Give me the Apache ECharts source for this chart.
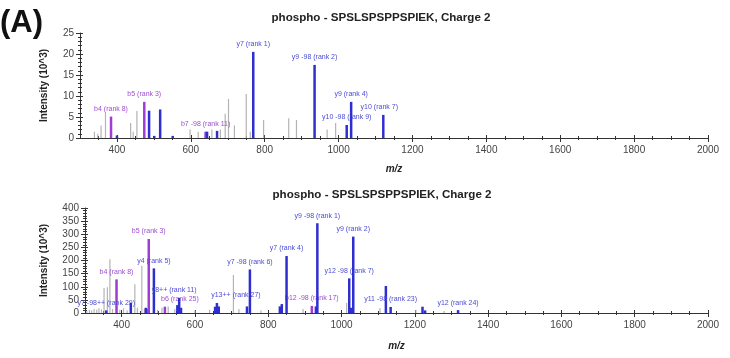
<!DOCTYPE html>
<html><head><meta charset="utf-8">
<script src="https://cdn.jsdelivr.net/npm/echarts@6/dist/echarts.min.js"></script>
<style>html,body{margin:0;padding:0;background:#fff}#c{width:730px;height:358px}</style>
</head><body><div id="c"></div>
<script>
// ---------- data ----------
const panelTitle = 'phospho - SPSLSPSPPSPIEK, Charge 2';
const panelLetter = '(A)';
const xName = 'm/z';
const yName = 'Intensity (10^3)';
const xMajorTicks = [400, 600, 800, 1000, 1200, 1400, 1600, 1800, 2000];
const xMinorTicks = [350, 450, 500, 550, 650, 700, 750, 850, 900, 950, 1050, 1100, 1150, 1250, 1300, 1350, 1450, 1500, 1550, 1650, 1700, 1750, 1850, 1900, 1950];

// top spectrum (intensity x10^3)
const topGray = [[339,1.5],[348,1],[357,3],[369,6],[437,3.6],[444,1.5],[454,6.4],[598,2],[620,1.5],[657,2],[680,2],[693,5.8],[702,9.3],[718,3],[750,10.5],[761,1.5],[797,4.3],[865,4.7],[886,4.3],[969,2],[992,3.6]];
const topBlue = [[400,0.6],[487,6.5],[501,0.5],[517,6.8],[551,0.5],[644,1.5],[671,1.7],[769,20.5],[935,17.4],[1022,3.1],[1034,8.6],[1121,5.5]];
const topBlueLabels = ['','','','','','','','y7 (rank 1)','y9 -98 (rank 2)','y10 -98 (rank 9)','y9 (rank 4)','y10 (rank 7)'];
const topPurple = [[384,5.1],[474,8.6],[640,1.5]];
const topPurpleLabels = ['b4 (rank 8)','b5 (rank 3)','b7 -98 (rank 11)'];

// bottom spectrum (intensity x10^3)
const botGray = [[305,8],[312,12],[318,10],[325,15],[332,12],[338,18],[345,14],[352,95],[361,98],[368,205],[375,15],[395,12],[405,18],[415,10],[436,110],[443,20],[455,180],[462,15],[498,12],[510,20],[527,25],[545,15],[600,10],[640,12],[705,145],[720,15],[780,10],[830,25],[895,15],[1014,38],[1105,19],[1203,11],[1280,8]];
const botBlue = [[358,10],[425,38],[466,20],[488,170],[552,30],[557,57],[562,20],[655,24],[660,38],[665,25],[742,25],[750,166],[832,25],[837,34],[850,217],[930,25],[934,342],[1021,132],[1026,20],[1032,291],[1121,103],[1134,23],[1221,24],[1228,10],[1318,11]];
const botBlueLabels = ['y7 -98++ (rank 29)','','','y4 (rank 5)','','y8++ (rank 11)','','','y13++ (rank 27)','','','y7 -98 (rank 6)','','','y7 (rank 4)','','y9 -98 (rank 1)','y12 -98 (rank 7)','','y9 (rank 2)','','y11 -98 (rank 23)','','','y12 (rank 24)'];
const botPurple = [[386,128],[470,15],[474,282],[518,24],[919,27]];
const botPurpleLabels = ['b4 (rank 8)','','b5 (rank 3)','b6 (rank 25)','b12 -98 (rank 17)'];

// ---------- styling ----------
const labelShift = {'b6 (rank 25)': 15, 'y13++ (rank 27)': 19, 'y8++ (rank 11)': -5, 'y10 (rank 7)': -4};
const C_GRAY = '#b4b4b4', C_BLUE = '#2f2fd0', C_PURPLE = '#a03cd2';
const T_BLUE = '#4b4bd8', T_PURPLE = '#a04ed0';
const FONT = '"Liberation Sans", Arial, sans-serif';

function stickSeries(g, data, labels, color, textColor, w) {
  return {
    type: 'custom', xAxisIndex: g * 4, yAxisIndex: g * 2, data: data, clip: false,
    renderItem: function (params, api) {
      const x = api.value(0), y = api.value(1);
      const p0 = api.coord([x, 0]), p1 = api.coord([x, y]);
      const children = [{type: 'rect', shape: {x: p0[0] - w / 2, y: p1[1], width: w, height: p0[1] - p1[1]}, style: {fill: color}}];
      const lab = labels ? labels[params.dataIndex] : '';
      if (lab) {
        children.push({type: 'text', x: p1[0] + (labelShift[lab] || 0), y: p1[1] - 4,
          style: {text: lab, fill: textColor, font: '7px ' + FONT, align: 'center', verticalAlign: 'bottom'}});
      }
      return {type: 'group', children: children};
    }
  };
}

function xAxes(g, gap) {
  const base = {type: 'value', gridIndex: g, position: 'bottom', min: 300, max: 2000, splitLine: {show: false}};
  const line = {lineStyle: {color: '#333', width: 1}};
  const tickStyle = {color: '#333'};
  return [
    Object.assign({}, base, {axisLine: line, axisTick: {show: true, customValues: xMajorTicks, length: 4, lineStyle: tickStyle},
      axisLabel: {customValues: xMajorTicks, fontSize: 10, color: '#444', margin: 7, fontFamily: FONT, formatter: function (v) { return String(v); }},
      name: xName, nameLocation: 'middle', nameGap: gap,
      nameTextStyle: {fontStyle: 'italic', fontWeight: 'bold', fontSize: 10, color: '#222', fontFamily: FONT}}),
    Object.assign({}, base, {axisLine: {show: false}, axisTick: {show: true, inside: true, customValues: xMajorTicks, length: 3, lineStyle: tickStyle}, axisLabel: {show: false}}),
    Object.assign({}, base, {axisLine: {show: false}, axisTick: {show: true, customValues: xMinorTicks, length: 2, lineStyle: tickStyle}, axisLabel: {show: false}}),
    Object.assign({}, base, {axisLine: {show: false}, axisTick: {show: true, inside: true, customValues: xMinorTicks, length: 2, lineStyle: tickStyle}, axisLabel: {show: false}})
  ];
}

function yAxes(g, max, interval, gap) {
  const base = {type: 'value', gridIndex: g, position: 'left', min: 0, max: max, interval: interval, splitLine: {show: false}};
  return [
    Object.assign({}, base, {axisLine: {show: true, lineStyle: {color: '#333'}}, axisTick: {show: true, length: 4, lineStyle: {color: '#333'}},
      minorTick: {show: true, splitNumber: 5, length: 2, lineStyle: {color: '#333'}},
      axisLabel: {fontSize: 10, color: '#444', margin: 6, fontFamily: FONT},
      name: yName, nameLocation: 'middle', nameGap: gap, nameRotate: 90,
      nameTextStyle: {fontWeight: 'bold', fontSize: 10, color: '#222', fontFamily: FONT}}),
    Object.assign({}, base, {axisLine: {show: false}, axisTick: {show: true, inside: true, length: 3, lineStyle: {color: '#333'}},
      minorTick: {show: true, splitNumber: 5, length: 2, lineStyle: {color: '#333'}}, axisLabel: {show: false}})
  ];
}

const chart = echarts.init(document.getElementById('c'), null, {renderer: 'canvas'});
chart.setOption({
  animation: false,
  grid: [
    {left: 80, right: 22, top: 33, height: 105},
    {left: 85, right: 22, top: 208, height: 105}
  ],
  xAxis: xAxes(0, 26).concat(xAxes(1, 28)),
  yAxis: yAxes(0, 25, 5, 31).concat(yAxes(1, 400, 50, 36)),
  graphic: [
    {type: 'text', left: 0, top: 8, style: {text: panelLetter, font: 'bold 31px ' + FONT, fill: '#111'}},
    {type: 'text', x: 381, y: 18, style: {text: panelTitle, font: 'bold 11.6px ' + FONT, fill: '#222', align: 'center', verticalAlign: 'middle'}},
    {type: 'text', x: 382, y: 195, style: {text: panelTitle, font: 'bold 11.6px ' + FONT, fill: '#222', align: 'center', verticalAlign: 'middle'}}
  ],
  series: [
    stickSeries(0, topGray, null, C_GRAY, '', 1.2),
    stickSeries(0, topPurple, topPurpleLabels, C_PURPLE, T_PURPLE, 2.5),
    stickSeries(0, topBlue, topBlueLabels, C_BLUE, T_BLUE, 2.5),
    stickSeries(1, botGray, null, C_GRAY, '', 1.2),
    stickSeries(1, botPurple, botPurpleLabels, C_PURPLE, T_PURPLE, 2.5),
    stickSeries(1, botBlue, botBlueLabels, C_BLUE, T_BLUE, 2.5)
  ]
});
</script>
</body></html>
